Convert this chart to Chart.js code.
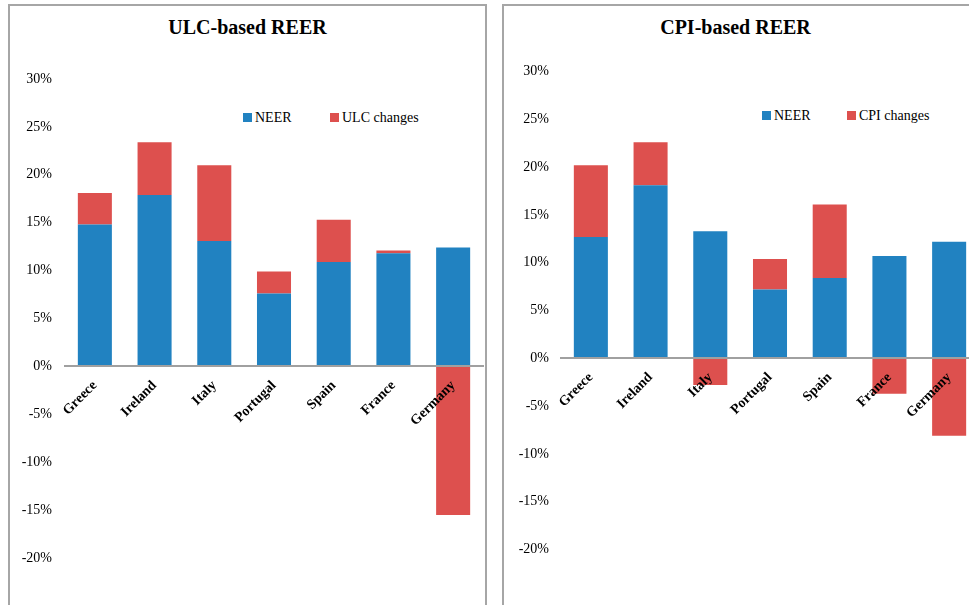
<!DOCTYPE html>
<html>
<head>
<meta charset="utf-8">
<script src="https://cdn.jsdelivr.net/npm/chart.js@4.4.1/dist/chart.umd.min.js"></script>
<style>
  html, body { margin: 0; padding: 0; background: #fff; overflow: hidden; }
  body { width: 969px; height: 605px; position: relative; font-family: "Liberation Serif", "Times New Roman", serif; }
  .panel { position: absolute; border: 2px solid #a6a6a6; background: #fff; }
  canvas { position: absolute; }
  .title { position: absolute; font-weight: bold; font-size: 20px; line-height: 24px; text-align: center; color: #000; }
  .legend { position: absolute; font-size: 14px; line-height: 16px; color: #000; white-space: nowrap; }
  .legend i { display: inline-block; width: 9px; height: 9px; vertical-align: middle; margin-right: 3px; position: relative; top: -1px; }
</style>
</head>
<body>
<div class="panel" style="left:8px; top:4px; width:475px; height:700px;"></div>
<div class="panel" style="left:502px; top:4px; width:600px; height:700px;"></div>

<div class="title" style="left:10px; top:15px; width:475px;">ULC-based REER</div>
<div class="title" style="left:503px; top:15px; width:465px;">CPI-based REER</div>

<div id="legendLeft"></div>
<div id="legendRight"></div>

<canvas id="ulcChart" width="475" height="599" style="left:10px; top:6px;"></canvas>
<canvas id="cpiChart" width="476" height="599" style="left:505px; top:6px;"></canvas>

<script>
// data (percent)
const countries = ["Greece", "Ireland", "Italy", "Portugal", "Spain", "France", "Germany"];

const ulcNeer = [14.8, 17.9, 13.1, 7.6, 10.9, 11.8, 12.4];
const ulcChanges = [3.3, 5.5, 7.9, 2.3, 4.4, 0.3, -15.5];

const cpiNeer = [12.7, 18.1, 13.3, 7.2, 8.4, 10.7, 12.2];
const cpiChanges = [7.5, 4.5, -2.8, 3.2, 7.7, -3.7, -8.1];

const yTicks = [30, 25, 20, 15, 10, 5, 0, -5, -10, -15, -20];

const blue = "#2182c1";
const red = "#dd504e";
const axisGray = "#a0a0a0";

// legend boxes, html text
function makeLegend(id, items) {
  const holder = document.getElementById(id);
  items.forEach((item) => {
    const el = document.createElement("div");
    el.className = "legend";
    el.style.left = item.x + "px";
    el.style.top = item.y + "px";
    el.innerHTML = `<i style="background:${item.color}"></i>${item.text}`;
    holder.appendChild(el);
  });
}

makeLegend("legendLeft", [
  { text: "NEER", color: blue, x: 243, y: 110 },
  { text: "ULC changes", color: red, x: 330, y: 110 },
]);
makeLegend("legendRight", [
  { text: "NEER", color: blue, x: 762, y: 108 },
  { text: "CPI changes", color: red, x: 847, y: 108 },
]);

function buildChart(canvasId, neer, changes, changesLabel, yWidth, tickPad, padding) {
  const ctx = document.getElementById(canvasId);
  return new Chart(ctx, {
    type: "bar",
    data: {
      labels: countries,
      datasets: [
        { label: "NEER", data: neer, backgroundColor: blue, borderWidth: 0 },
        { label: changesLabel, data: changes, backgroundColor: red, borderWidth: 0 },
      ],
    },
    options: {
      responsive: false,
      animation: false,
      barPercentage: 0.57,
      categoryPercentage: 1,
      layout: { padding: padding },
      plugins: {
        legend: { display: false },
        title: { display: false },
        tooltip: { enabled: false },
      },
      scales: {
        x: {
          stacked: true,
          position: { y: 0 },
          grid: { display: false, drawTicks: false },
          border: { display: true, color: axisGray, width: 2, z: 1 },
          ticks: {
            z: 2,
            autoSkip: false,
            minRotation: 45,
            maxRotation: 45,
            padding: 11,
            color: "#000",
            font: { family: "Liberation Serif", size: 14, weight: "bold" },
          },
        },
        y: {
          stacked: true,
          min: -20,
          max: 30,
          afterFit: (scale) => {
            scale.width = yWidth;
          },
          afterBuildTicks: (scale) => {
            scale.ticks = yTicks.map((v) => ({ value: v }));
          },
          grid: { display: false, drawTicks: false },
          border: { display: false },
          ticks: {
            padding: tickPad,
            color: "#000",
            font: { family: "Liberation Serif", size: 14 },
            callback: (v) => v + "%",
          },
        },
      },
    },
  });
}

buildChart("ulcChart", ulcNeer, ulcChanges, "ULC changes", 55, 13, { left: 0, right: 2, top: 73, bottom: 47 });
buildChart("cpiChart", cpiNeer, cpiChanges, "CPI changes", 56, 12, { left: 0, right: 2, top: 65.5, bottom: 55.5 });
</script>
</body>
</html>
